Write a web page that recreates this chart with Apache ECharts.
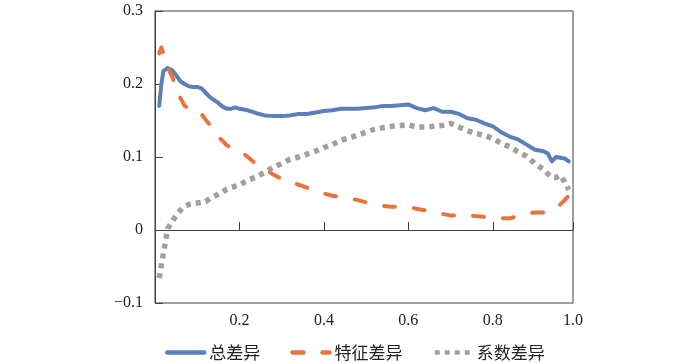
<!DOCTYPE html>
<html><head><meta charset="utf-8">
<script src="https://cdn.jsdelivr.net/npm/echarts@6/dist/echarts.min.js"></script>
<style>html,body{margin:0;padding:0;background:#fff}#c{width:700px;height:363px}</style>
</head><body><div id="c"></div>
<script>
const quantiles = [0.01,0.015,0.02,0.03,0.04,0.05,0.06,0.07,0.08,0.09,0.10,0.11,0.12,0.13,0.14,0.15,0.16,0.17,0.18,0.19,0.20,
 0.22,0.24,0.26,0.28,0.30,0.32,0.34,0.36,0.38,0.40,0.42,0.44,0.46,0.48,0.50,0.52,0.54,0.56,0.58,0.60,0.62,0.64,0.66,0.68,0.70,0.72,0.74,0.76,0.78,0.80,0.82,0.84,0.86,0.88,0.90,0.92,
 0.93,0.94,0.95,0.96,0.97,0.98];
const totalDiff = [.170,.200,.218,.222,.219,.212,.204,.200,.197,.196,.196,.194,.188,.182,.178,.174,.169,.166,.166,.168,.166,
 .164,.160,.157,.156,.156,.157,.159,.159,.161,.163,.164,.166,.166,.166,.167,.168,.170,.170,.171,.172,.167,.164,.167,.162,.162,.159,.153,.151,.146,.142,.134,.128,.124,.117,.110,.108,
 .105,.094,.100,.099,.098,.094];
const featureDiff = [.242,.250,.241,.222,.211,.196,.181,.170,.167,.166,.165,.159,.151,.144,.136,.128,.122,.116,.113,.111,.109,
 .100,.090,.084,.076,.070,.066,.062,.058,.054,.050,.047,.045,.043,.041,.038,.035,.033,.032,.032,.032,.029,.027,.025,.022,.020,.020,.020,.019,.018,.017,.016,.016,.019,.023,.024,.024,
 .025,.027,.030,.035,.041,.047];
const coefDiff = [-.066,-.048,-.032,.002,.011,.020,.027,.032,.035,.036,.037,.038,.039,.043,.046,.049,.052,.056,.058,.060,.062,
 .068,.073,.079,.086,.091,.097,.100,.104,.108,.113,.117,.123,.126,.130,.134,.138,.140,.142,.143,.144,.141,.141,.142,.143,.146,.141,.136,.132,.130,.125,.119,.114,.107,.101,.091,.083,
 .077,.072,.072,.075,.066,.055];
const seriesNames = ['总差异','特征差异','系数差异'];

const zip = arr => quantiles.map((q,i)=>[q,arr[i]]);
const chart = echarts.init(document.getElementById('c'), null, {renderer:'canvas'});
const serif = '"Liberation Serif","DejaVu Serif",serif';
const axisColor = '#404040';
chart.setOption({
  animation:false,
  grid:{left:155,right:127,top:11,bottom:60,show:true,borderColor:axisColor,borderWidth:1},
  legend:{
    left:160, top:339, itemWidth:37, itemHeight:10, itemGap:30,
    itemStyle:{opacity:0},
    lineStyle:{width:4.5},
    textStyle:{fontSize:17, color:'#222', fontFamily:'"Noto Sans CJK SC",sans-serif'},
    data:seriesNames
  },
  xAxis:{
    type:'value', min:0, max:0.99, interval:0.2,
    axisLine:{lineStyle:{color:axisColor}},
    axisTick:{inside:true,length:8,lineStyle:{color:axisColor}},
    splitLine:{show:false},
    axisLabel:{fontSize:16,color:'#222',fontFamily:serif,margin:10,showMaxLabel:true,
      formatter:v=> v===0 ? '' : (v>0.95 ? '1.0' : v.toFixed(1))}
  },
  yAxis:{
    type:'value', min:-0.1, max:0.3, interval:0.1,
    axisLine:{show:true,lineStyle:{color:axisColor}},
    axisTick:{show:true,inside:true,length:8,lineStyle:{color:axisColor}},
    splitLine:{show:false},
    axisLabel:{fontSize:16,color:'#222',fontFamily:serif,margin:12,
      formatter:v=> Math.abs(v)<1e-9 ? '0' : v.toFixed(1).replace('-','\u2212')}
  },
  series:[
    {name:seriesNames[0],type:'line',symbol:'none',data:zip(totalDiff),
     itemStyle:{color:'#5b80b9'},
     lineStyle:{color:'#5b80b9',width:4,cap:'round',join:'round'}},
    {name:seriesNames[1],type:'line',symbol:'none',data:zip(featureDiff),
     itemStyle:{color:'#e8743b'},
     lineStyle:{color:'#e8743b',width:4,type:[11,19],cap:'round',join:'round'}},
    {name:seriesNames[2],type:'line',symbol:'none',data:zip(coefDiff),
     itemStyle:{color:'#a59e9b'},
     lineStyle:{color:'#a59e9b',width:5.5,type:[5,5],cap:'butt'}}
  ]
});
</script></body></html>
